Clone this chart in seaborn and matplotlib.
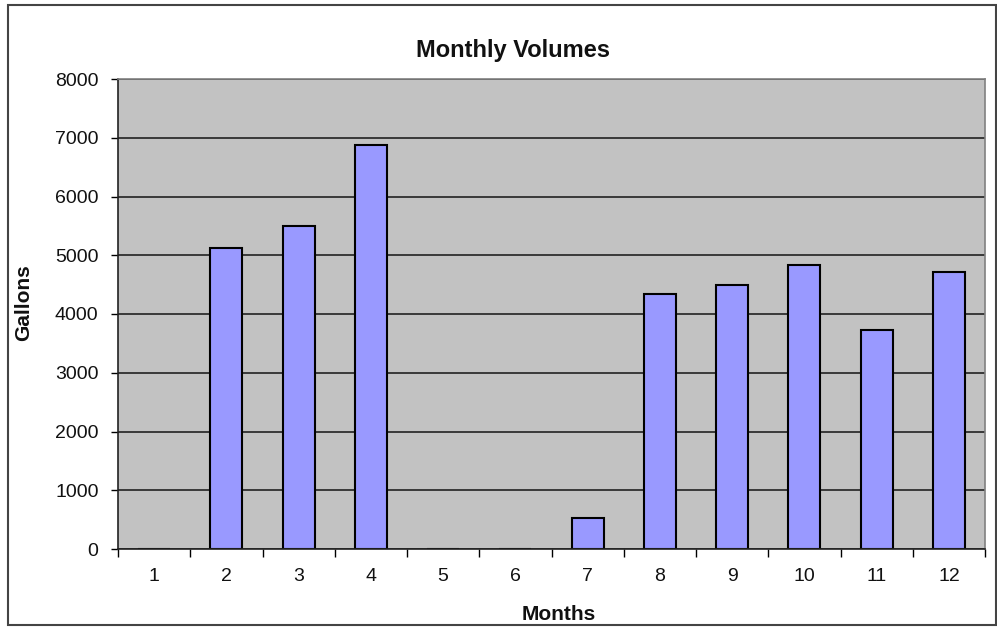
import matplotlib
matplotlib.use("Agg")
import matplotlib.pyplot as plt
import seaborn as sns
import pandas as pd
from matplotlib.patches import Rectangle

months = ["1", "2", "3", "4", "5", "6", "7", "8", "9", "10", "11", "12"]
gallons = [0, 5120, 5500, 6880, 0, 0, 530, 4340, 4490, 4840, 3730, 4710]
y_ticks = [0, 1000, 2000, 3000, 4000, 5000, 6000, 7000, 8000]

df = pd.DataFrame({"Months": months, "Gallons": gallons})

sns.set_style("white")
plt.rcParams["font.family"] = ["Liberation Sans", "DejaVu Sans"]
plt.rcParams["text.color"] = "#111111"
plt.rcParams["axes.labelcolor"] = "#111111"
plt.rcParams["xtick.color"] = "#111111"
plt.rcParams["ytick.color"] = "#111111"

fig = plt.figure(figsize=(9.97, 6.30), dpi=100)
ax = fig.add_axes([118 / 997, 81 / 630, (985 - 118) / 997, (549 - 79) / 630])
ax.set_facecolor("#c2c2c2")

sns.barplot(data=df, x="Months", y="Gallons", order=months, color="#9999ff",
            edgecolor="black", linewidth=1.5, width=0.44, saturation=1, ax=ax)

ax.set_ylim(0, 8000)
ax.set_xlim(-0.5, len(months) - 0.5)
ax.set_yticks(y_ticks)
ax.set_yticklabels([str(v) for v in y_ticks], fontsize=14)
ax.yaxis.grid(True, color="#222222", linewidth=1.2)
ax.set_axisbelow(True)

# x ticks at category boundaries, labels at centers
ax.set_xticks([i - 0.5 for i in range(len(months) + 1)])
ax.set_xticklabels([""] * (len(months) + 1))
ax.set_xticks(list(range(len(months))), minor=True)
ax.set_xticklabels(months, minor=True, fontsize=14)
ax.tick_params(axis="x", which="major", length=6, width=1, color="black", direction="out", bottom=True)
ax.tick_params(axis="x", which="minor", length=0, pad=14)
ax.tick_params(axis="y", length=5, width=1, color="black", direction="out", left=True, pad=9)

for s in ["left", "bottom"]:
    ax.spines[s].set_color("#222222")
    ax.spines[s].set_linewidth(1.2)
for s in ["top", "right"]:
    ax.spines[s].set_color("#808080")
    ax.spines[s].set_linewidth(1.2)

ax.set_xlabel("Months", fontsize=15, fontweight="bold")
ax.xaxis.set_label_coords((559 - 118) / 867, -0.12)
ax.set_ylabel("Gallons", fontsize=15, fontweight="bold")
ax.yaxis.set_label_coords(-(118 - 33) / 867, 0.525)
ax.set_title("Monthly Volumes", fontsize=17, fontweight="bold", pad=16,
             x=(513 - 118) / 867)

fig.patches.append(Rectangle((8 / 997, 5 / 630), (996 - 8) / 997, (625 - 5) / 630,
                             transform=fig.transFigure, fill=False,
                             edgecolor="#444444", linewidth=1.5))

fig.savefig("out.png", dpi=100)
